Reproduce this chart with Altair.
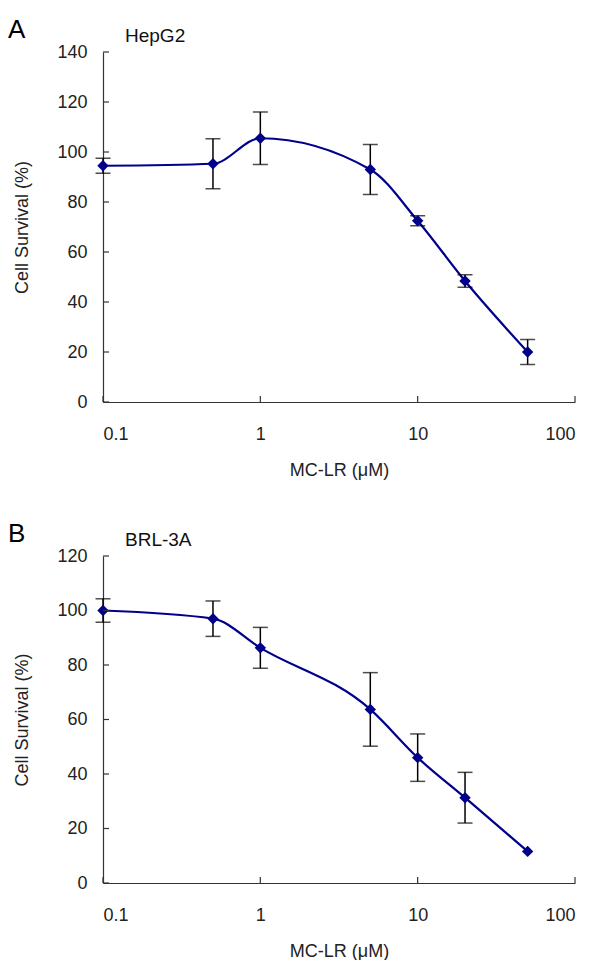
import altair as alt
import pandas as pd

# ---- data ----
conc = [0.1, 0.5, 1, 5, 10, 20, 50]

hepg2_mean = [94.5, 95.3, 105.5, 93.0, 72.5, 48.4, 20.0]
hepg2_err = [3.0, 10.0, 10.5, 10.0, 2.0, 2.5, 5.0]

brl_mean = [100.0, 97.0, 86.3, 63.7, 46.0, 31.3, 11.6]
brl_err = [4.3, 6.5, 7.5, 13.5, 8.7, 9.3, 0.0]

x_ticks = [0.1, 1, 10, 100]
yticks_a = [0, 20, 40, 60, 80, 100, 120, 140]
yticks_b = [0, 20, 40, 60, 80, 100, 120]

NAVY = "#00008B"
FONT = "Liberation Sans"
W = 472


def panel(letter, name, mean, err, yticks, height):
    df = pd.DataFrame({"x": conc, "y": mean,
                       "lo": [m - e for m, e in zip(mean, err)],
                       "hi": [m + e for m, e in zip(mean, err)],
                       "e": err})
    dfe = df[df["e"] > 0]
    ymax = yticks[-1]
    xs = alt.Scale(type="log", domain=[0.1, 100], nice=False)
    ys = alt.Scale(domain=[0, ymax], nice=False)
    xaxis = alt.Axis(values=x_ticks, format="~g", ticks=False, grid=False,
                     title="MC-LR (\u03bcM)", labelPadding=23, titlePadding=18)
    yaxis = alt.Axis(values=yticks, ticks=False, grid=False,
                     title="Cell Survival (%)", labelPadding=16, titlePadding=25)
    X = alt.X("x:Q", scale=xs, axis=xaxis)

    line = alt.Chart(df).mark_line(interpolate="monotone", color=NAVY,
                                   strokeWidth=2.2).encode(
        x=X, y=alt.Y("y:Q", scale=ys, axis=yaxis))
    bars = alt.Chart(dfe).mark_rule(color="black", strokeWidth=1.5).encode(
        x=X, y=alt.Y("lo:Q", scale=ys, axis=yaxis), y2="hi:Q")
    cap_lo = alt.Chart(dfe).mark_tick(color="black", thickness=1.5, size=15,
                                      orient="horizontal").encode(
        x=X, y=alt.Y("lo:Q", scale=ys, axis=yaxis))
    cap_hi = alt.Chart(dfe).mark_tick(color="black", thickness=1.5, size=15,
                                      orient="horizontal").encode(
        x=X, y=alt.Y("hi:Q", scale=ys, axis=yaxis))
    pts = alt.Chart(df).mark_point(shape="diamond", filled=True, size=130,
                                   color=NAVY, opacity=1).encode(
        x=X, y=alt.Y("y:Q", scale=ys, axis=yaxis))

    ytk = alt.Chart(pd.DataFrame({"y": yticks})).mark_rule(
        color="#333", strokeWidth=1.2).encode(
        y=alt.Y("y:Q", scale=ys, axis=yaxis), x=alt.value(0), x2=alt.value(6))
    xtk = alt.Chart(pd.DataFrame({"x": x_ticks})).mark_rule(
        color="#333", strokeWidth=1.2).encode(
        x=X, y=alt.value(height), y2=alt.value(height - 6))

    lab = alt.Chart(pd.DataFrame({"t": [letter]})).mark_text(
        fontSize=26, font=FONT, align="left", baseline="alphabetic",
        color="black").encode(text="t:N", x=alt.value(-95), y=alt.value(-14))
    ttl = alt.Chart(pd.DataFrame({"t": [name]})).mark_text(
        fontSize=19, font=FONT, align="left", baseline="alphabetic",
        color="#111").encode(text="t:N", x=alt.value(22), y=alt.value(-10))

    return alt.layer(line, bars, cap_lo, cap_hi, pts, ytk, xtk, lab, ttl).properties(
        width=W, height=height)


pa = panel("A", "HepG2", hepg2_mean, hepg2_err, yticks_a, 350)
pb = panel("B", "BRL-3A", brl_mean, brl_err, yticks_b, 327)

chart = alt.vconcat(pa, pb, spacing=42).properties(
    padding={"top": 9, "left": 0, "right": 0, "bottom": 0}).configure_view(
    stroke=None).configure_axis(
    labelFont=FONT, titleFont=FONT, labelFontSize=18, titleFontSize=18,
    labelColor="#222", titleColor="#222", titleFontWeight="normal",
    domainColor="#333", domainWidth=1.2)

chart.save("out.html", embed_options={"renderer": "svg", "actions": False})
